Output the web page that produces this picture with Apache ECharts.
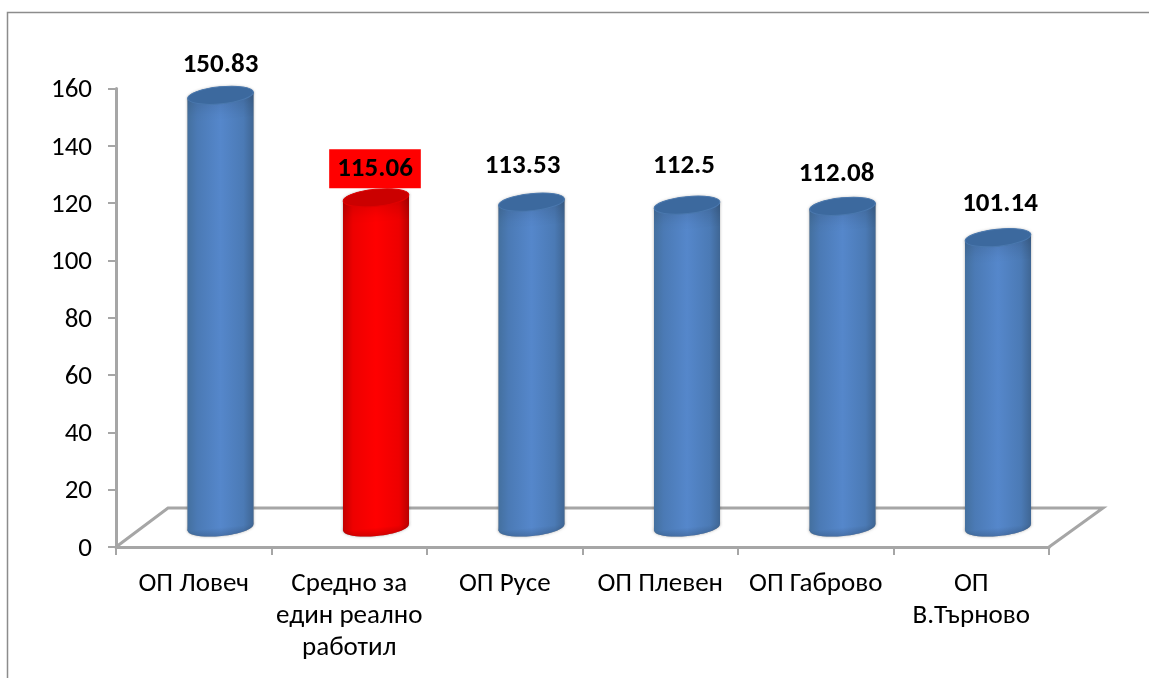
<!DOCTYPE html>
<html>
<head>
<meta charset="utf-8">
<style>
  html, body { margin: 0; padding: 0; background: #fff; }
  #chart { width: 1149px; height: 678px; }
</style>
<script src="https://cdn.jsdelivr.net/npm/echarts@6/dist/echarts.min.js"></script>
</head>
<body>
<div id="chart"></div>
<script>
const categories = ['ОП Ловеч', 'Средно за\nедин реално\nработил', 'ОП Русе', 'ОП Плевен', 'ОП Габрово', 'ОП\nВ.Търново'];
const values = [150.83, 115.06, 113.53, 112.5, 112.08, 101.14];
const highlighted = [false, true, false, false, false, false];

// hand-placed data labels in the original: nudge from the bar top
const labelDx = [0, -1, -9, -3, -6, 2];
const labelDy = [-30, -29, -35.5, -38.5, -32.5, -33];

const FONT = 'Carlito, Calibri, "Open Sans", "Noto Sans", sans-serif';
const AXIS_GRAY = '#a6a6a6';
const DEPTH_X = 52;
const DEPTH_Y = 39;
const BAR_SHIFT = 0.75;
const BAR_RX = 33;
const BAR_RY = 8.5;
const TILT = 0.1;

const sideGradient = (edge, mid) => ({
  type: 'linear', x: 0, y: 0, x2: 1, y2: 0,
  colorStops: [
    { offset: 0, color: edge[0] },
    { offset: 0.15, color: mid[0] },
    { offset: 0.5, color: mid[1] },
    { offset: 0.85, color: mid[0] },
    { offset: 1, color: edge[1] },
  ],
});
const BLUE_SIDE = sideGradient(['#44709f', '#3f6694'], ['#4b7ab5', '#5587cb']);
const RED_SIDE = sideGradient(['#c20000', '#b80000'], ['#ee0000', '#ff0000']);
const TOP_SHADE = {
  type: 'linear', x: 0, y: 0, x2: 0, y2: 1,
  colorStops: [
    { offset: 0, color: 'rgba(0,0,0,0.16)' },
    { offset: 0.4, color: 'rgba(0,0,0,0.07)' },
    { offset: 0.75, color: 'rgba(0,0,0,0.015)' },
    { offset: 1, color: 'rgba(0,0,0,0)' },
  ],
};
const BOTTOM_SHADE = {
  type: 'linear', x: 0, y: 0, x2: 0, y2: 1,
  colorStops: [
    { offset: 0.5, color: 'rgba(0,0,0,0)' },
    { offset: 1, color: 'rgba(0,0,0,0.16)' },
  ],
};

const renderFloor = (params, api) => {
  const left = api.coord([0, 0]);
  const rect = params.coordSys;
  const y0 = left[1];
  const x0 = rect.x;
  const x1 = rect.x + rect.width;
  return {
    type: 'polyline',
    silent: true,
    shape: {
      points: [
        [x0, y0],
        [x0 + DEPTH_X, y0 - DEPTH_Y],
        [x1 + DEPTH_X + 2, y0 - DEPTH_Y],
        [x1, y0],
      ],
    },
    style: { fill: null, stroke: AXIS_GRAY, lineWidth: 3 },
  };
};

const renderBar = (params, api) => {
  const i = api.value(0);
  const v = api.value(1);
  const top = api.coord([i, v]);
  const base = api.coord([i, 0]);
  const cx = top[0] + DEPTH_X / 2 + BAR_SHIFT;
  const yTop = top[1] - DEPTH_Y / 2;
  const yBase = base[1] - DEPTH_Y / 2;
  const red = highlighted[i];
  const side = red ? RED_SIDE : BLUE_SIDE;
  const dy = BAR_RX * Math.sin(TILT);

  const ellipse = (cy, style) => ({
    type: 'ellipse',
    x: cx,
    y: cy,
    rotation: TILT,
    shape: { cx: 0, cy: 0, rx: BAR_RX, ry: BAR_RY },
    style,
  });
  const body = (y1, y2, style) => ({
    type: 'polygon',
    shape: {
      points: [
        [cx - BAR_RX, y1 + dy],
        [cx + BAR_RX, y1 - dy],
        [cx + BAR_RX, y2 - dy],
        [cx - BAR_RX, y2 + dy],
      ],
    },
    style,
  });
  const halo = { fill: '#a0a0a0', shadowColor: 'rgba(0,0,0,0.3)', shadowBlur: 3 };

  return {
    type: 'group',
    children: [
      // soft gray rim first, the cylinder goes over it
      ellipse(yTop, halo),
      body(yTop, yBase, halo),
      ellipse(yBase, halo),
      ellipse(yBase, { fill: side }),
      body(yTop, yBase, { fill: side }),
      ellipse(yBase, { fill: BOTTOM_SHADE }),
      body(yTop, yTop + 24, { fill: TOP_SHADE }),
      ellipse(yTop, {
        fill: red ? '#cb0000' : '#3c699e',
        stroke: red ? '#e00000' : '#4a78ae',
        lineWidth: 1,
      }),
      {
        type: 'text',
        x: cx + labelDx[i],
        y: yTop + labelDy[i],
        style: {
          text: String(v),
          font: 'bold 27px ' + FONT,
          fill: '#000',
          align: 'center',
          verticalAlign: 'middle',
          backgroundColor: red ? '#ff0000' : null,
          padding: red ? [6, 8, 6, 8] : 0,
        },
      },
    ],
  };
};

const chart = echarts.init(document.getElementById('chart'), null, { renderer: 'canvas' });

chart.setOption({
  animation: false,
  backgroundColor: '#fff',
  tooltip: { show: false },
  legend: { show: false },
  grid: { left: 116, top: 88.5, width: 933, height: 458.5, containLabel: false },
  graphic: [
    {
      type: 'polyline',
      silent: true,
      shape: { points: [[7.5, 678], [7.5, 12.5], [1149, 12.5]] },
      style: { fill: null, stroke: '#8c8c8c', lineWidth: 1.5 },
    },
  ],
  xAxis: {
    type: 'category',
    data: categories,
    axisLine: { lineStyle: { color: AXIS_GRAY, width: 3 } },
    axisTick: { show: true, length: 8, lineStyle: { color: AXIS_GRAY, width: 2 } },
    axisLabel: { color: '#000', fontFamily: FONT, fontSize: 27, lineHeight: 32, margin: 21, interval: 0 },
  },
  yAxis: {
    type: 'value',
    min: 0,
    max: 160,
    interval: 20,
    splitLine: { show: false },
    axisLine: { show: true, lineStyle: { color: AXIS_GRAY, width: 3 } },
    axisTick: { show: true, length: 8, lineStyle: { color: AXIS_GRAY, width: 2 } },
    // top-aligned with a short line box: sits a little under the tick like the original
    axisLabel: { color: '#000', fontFamily: FONT, fontSize: 27, margin: 24, verticalAlign: 'top', lineHeight: 4 },
  },
  series: [
    {
      type: 'custom',
      coordinateSystem: 'cartesian2d',
      renderItem: renderFloor,
      data: [[0, 0]],
      z: 1,
      silent: true,
    },
    {
      type: 'custom',
      coordinateSystem: 'cartesian2d',
      renderItem: renderBar,
      data: values.map((v, i) => [i, v]),
      encode: { x: 0, y: 1 },
      z: 3,
      silent: true,
    },
  ],
});
</script>
</body>
</html>
